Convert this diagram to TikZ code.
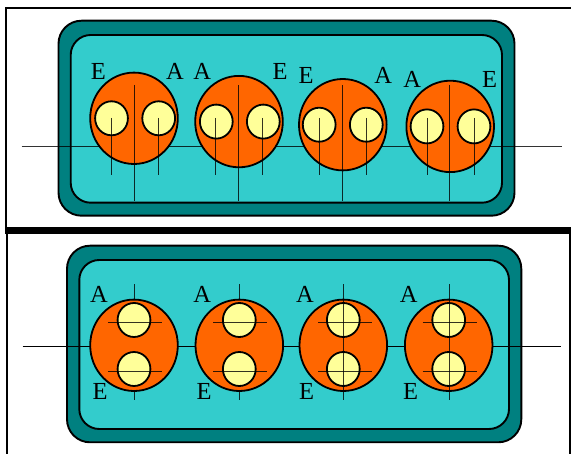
\documentclass[tikz,border=0pt]{standalone}
\usepackage{fontspec}
\setmainfont{Liberation Serif}
\definecolor{tealout}{HTML}{008080}
\definecolor{tealin}{HTML}{33CCCC}
\definecolor{disc}{HTML}{FF6600}
\definecolor{pale}{HTML}{FFFF99}
\tikzset{
  outerbox/.style={draw=black,fill=tealout,line width=1.9pt,rounded corners=23pt},
  innerbox/.style={draw=black,fill=tealin,line width=1.9pt,rounded corners=20pt},
  bigdisc/.style={draw=black,fill=disc,line width=1.8pt},
  smalldisc/.style={draw=black,fill=pale,line width=1.8pt},
  wire/.style={draw=black,line width=1pt,draw opacity=0.8},
  frameline/.style={draw=black,line width=2pt},
  heavyline/.style={fill=black},
  lab/.style={inner sep=0pt,font=\fontsize{24.5}{24.5}\selectfont}
}
\newcommand{\topunit}[4]{% cx, cy of disc, left small x, right small x
  \fill[bigdisc] (#1,#2) ellipse (43.8 and 45.7);
  \fill[smalldisc] (#3,#2) ellipse (16.4 and 17);
  \fill[smalldisc] (#4,#2) ellipse (16.4 and 17);
}
\newcommand{\topwires}[3]{%
  \draw[wire] (#1,85) -- (#1,200.7);
  \draw[wire] (#2,118) -- (#2,175);
  \draw[wire] (#3,118) -- (#3,175);
}
\newcommand{\botunit}[1]{%
  \fill[bigdisc] (#1,345.3) ellipse (43.8 and 45.7);
  \fill[smalldisc] (#1,320) ellipse (16.4 and 17);
  \fill[smalldisc] (#1,369) ellipse (16.4 and 17);
}
\newcommand{\botbars}[1]{%
  \draw[wire] (#1-27,322.3) -- (#1+27,322.3);
  \draw[wire] (#1-27,371.7) -- (#1+27,371.7);
}
\begin{document}
\begin{tikzpicture}[x=1pt,y=-1pt]
\useasboundingbox (0,0) rectangle (571,454);
% frames
\draw[frameline] (5.8,234) -- (5.8,8) -- (571,8);
\fill[heavyline] (5,227.3) rectangle (571,233.7);
\draw[frameline] (7.3,233) -- (7.3,454);
\draw[frameline] (570,233) -- (570,454);
% top panel
\draw[outerbox] (58.5,20.7) rectangle (514.5,215.7);
\draw[innerbox] (70.7,35) rectangle (502,202.7);
\draw[wire] (21.7,147) -- (562,147);
\topunit{134}{118.3}{111.5}{158.7}
\topunit{239}{121.6}{216.3}{263.3}
\topunit{342.8}{124.7}{319.2}{366.3}
\topunit{450.2}{126.4}{427}{474}
\topwires{134}{111.5}{158.3}
\topwires{238.7}{215.7}{262.7}
\topwires{342}{319.3}{366.3}
\topwires{449.7}{427}{474}
\node[lab] (e1) at (98.3,71.7) {E};
\node[lab] (a1) at (175,71.7) {A};
\node[lab] (a2) at (202.3,71.7) {A};
\node[lab] (e2) at (280,71.7) {E};
\node[lab] (e3) at (306,75) {E};
\node[lab] (a3) at (383.3,75) {A};
\node[lab] (a4) at (412.3,79.3) {A};
\node[lab] (e4) at (489.7,79.3) {E};
% bottom panel
\draw[outerbox] (67,245.7) rectangle (521.3,442.3);
\draw[innerbox] (79.3,260) rectangle (509,429);
\draw[wire,draw opacity=1] (22.7,346.3) -- (561,346.3);
\draw[wire] (134,284.3) -- (134,400);
\draw[wire] (239.5,284.3) -- (239.5,400);
\botunit{134}
\botunit{239.3}
\botunit{343.3}
\botunit{448.7}
\draw[wire] (343.3,284.3) -- (343.3,400);
\draw[wire] (449.5,284.3) -- (449.5,400);
\botbars{134.8}
\botbars{240}
\botbars{345}
\botbars{449.5}
\node[lab] (a5) at (99,294) {A};
\node[lab] (a6) at (202.3,294) {A};
\node[lab] (a7) at (305,294) {A};
\node[lab] (a8) at (408.7,294) {A};
\node[lab] (e5) at (100,391) {E};
\node[lab] (e6) at (204,391) {E};
\node[lab] (e7) at (306.7,391) {E};
\node[lab] (e8) at (410.7,391) {E};
\end{tikzpicture}
\end{document}
